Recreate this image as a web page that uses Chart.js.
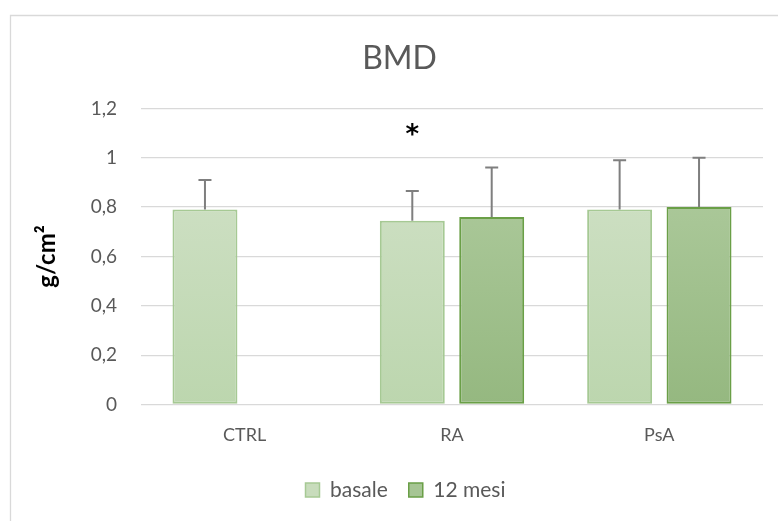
<!DOCTYPE html>
<html>
<head>
<meta charset="utf-8">
<script src="https://cdn.jsdelivr.net/npm/chart.js@4/dist/chart.umd.min.js"></script>
<style>
html,body{margin:0;padding:0;background:#fff;}
#wrap{position:relative;width:778px;height:521px;}
</style>
</head>
<body>
<div id="wrap"><canvas id="c" width="778" height="521"></canvas></div>
<script>
// ---- data ----
const categories = ['CTRL', 'RA', 'PsA'];
const seriesNames = ['basale', '12 mesi'];
const basale = [0.79, 0.745, 0.79];
const mesi12 = [null, 0.76, 0.80];
const errBasale = [0.12, 0.12, 0.20];
const errMesi12 = [null, 0.20, 0.20];
const yTickValues = [0, 0.2, 0.4, 0.6, 0.8, 1.0, 1.2];
const asteriskMarks = [{ series: 0, category: 1, value: 1.113, text: '*' }];

// ---- styles ----
const FONT = 'Lato, "Open Sans", sans-serif';
const GRAY = '#595959';
const styles = [
  { top: '#d4e3cb', bottom: '#bcd6ae', border: '#a6c994', legend: '#c8dcbc' },
  { top: '#b4cfa4', bottom: '#95b880', border: '#6a9f47', legend: '#a6c594' }
];
function grad(i) {
  return (ctx) => {
    const ca = ctx.chart.chartArea;
    if (!ca) return styles[i].legend;
    const g = ctx.chart.ctx.createLinearGradient(0, ca.top, 0, ca.bottom);
    g.addColorStop(0, styles[i].top);
    g.addColorStop(1, styles[i].bottom);
    return g;
  };
}
const errors = [errBasale, errMesi12];

const framePlugin = {
  id: 'frame',
  afterLayout(chart) {
    // the original chart is centred on a frame wider than the visible picture
    if (chart.titleBlock) { chart.titleBlock.left += 18; chart.titleBlock.right += 18; }
    if (chart.legend) { chart.legend.left += 24; chart.legend.right += 24; }
  },
  beforeDraw(chart) {
    const c = chart.ctx;
    c.save();
    c.fillStyle = '#fff';
    c.fillRect(0, 0, chart.width, chart.height);
    c.strokeStyle = '#d9d9d9';
    c.lineWidth = 1.3;
    c.beginPath();
    c.moveTo(10.5, chart.height + 5);
    c.lineTo(10.5, 15.5);
    c.lineTo(chart.width + 5, 15.5);
    c.stroke();
    c.restore();
  }
};

const errorBarPlugin = {
  id: 'errbars',
  afterDatasetsDraw(chart) {
    const c = chart.ctx;
    const y = chart.scales.y;
    c.save();
    c.strokeStyle = '#7f7f7f';
    c.lineWidth = 2;
    chart.data.datasets.forEach((ds, i) => {
      const meta = chart.getDatasetMeta(i);
      meta.data.forEach((bar, j) => {
        const v = ds.data[j];
        const e = errors[i][j];
        if (v == null || e == null) return;
        const yTop = y.getPixelForValue(v + e);
        c.beginPath();
        c.moveTo(bar.x, bar.y);
        c.lineTo(bar.x, yTop);
        c.moveTo(bar.x - 6.5, yTop);
        c.lineTo(bar.x + 6.5, yTop);
        c.stroke();
      });
    });
    // asterisks
    c.fillStyle = '#000';
    c.font = 'bold 26px "DejaVu Sans", sans-serif';
    c.textAlign = 'center';
    c.textBaseline = 'alphabetic';
    asteriskMarks.forEach(m => {
      const bar = chart.getDatasetMeta(m.series).data[m.category];
      const py = y.getPixelForValue(m.value);
      const tm = c.measureText(m.text);
      c.fillText(m.text, bar.x, py + (tm.actualBoundingBoxAscent - tm.actualBoundingBoxDescent) / 2);
    });
    c.restore();
  }
};

new Chart(document.getElementById('c'), {
  type: 'bar',
  data: {
    labels: categories,
    datasets: [
      { label: seriesNames[0], data: basale, backgroundColor: grad(0), borderColor: styles[0].border, borderWidth: 2, borderSkipped: false, categoryPercentage: 0.766, barPercentage: 0.818 },
      { label: seriesNames[1], data: mesi12, backgroundColor: grad(1), borderColor: styles[1].border, borderWidth: 2, borderSkipped: false, categoryPercentage: 0.766, barPercentage: 0.818 }
    ]
  },
  options: {
    responsive: false,
    animation: false,
    layout: { padding: { left: 0, right: 15, top: 0, bottom: 10.5 } },
    plugins: {
      title: {
        display: true, text: 'BMD', color: GRAY,
        font: { family: FONT, size: 32, weight: 'normal' },
        padding: { top: 39, bottom: 31 }
      },
      legend: {
        position: 'bottom',
        labels: {
          color: GRAY,
          font: { family: FONT, size: 21 },
          boxWidth: 14, boxHeight: 14, padding: 21,
          generateLabels(chart) {
            return chart.data.datasets.map((ds, i) => ({
              text: ds.label, fillStyle: styles[i].legend, strokeStyle: styles[i].border,
              lineWidth: 1.5, datasetIndex: i, fontColor: GRAY
            }));
          }
        }
      },
      tooltip: { enabled: false }
    },
    scales: {
      x: {
        grid: { display: false, drawTicks: false },
        border: { display: false },
        ticks: { color: GRAY, font: { family: FONT, size: 18 }, padding: 20 },
        afterFit(s) { s.height = 54; }
      },
      y: {
        min: 0, max: 1.2,
        afterBuildTicks(s) { s.ticks = yTickValues.map(v => ({ value: v })); },
        grid: { color: '#d9d9d9', lineWidth: 1.3, drawTicks: false },
        border: { display: false },
        ticks: {
          color: GRAY, font: { family: FONT, size: 19 }, padding: 24,
          callback: (v) => String(Math.round(v * 10) / 10).replace('.', ',')
        },
        title: {
          display: true, text: 'g/cm²', color: '#000',
          font: { family: FONT, size: 24, weight: 'bold' },
          padding: { top: 33, bottom: 0 }
        },
        afterFit(s) { s.width = 141; }
      }
    }
  },
  plugins: [framePlugin, errorBarPlugin]
});
</script>
</body>
</html>
